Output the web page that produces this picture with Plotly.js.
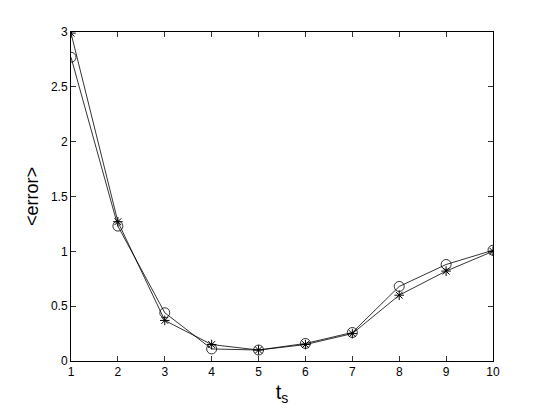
<!DOCTYPE html>
<html>
<head>
<meta charset="utf-8">
<script src="https://cdn.plot.ly/plotly-3.0.1.min.js"></script>
<style>html,body{margin:0;padding:0;background:#fff;}#chart{width:545px;height:410px;}</style>
</head>
<body>
<div id="chart"></div>
<script>
const ts = [1, 2, 3, 4, 5, 6, 7, 8, 9, 10];
const errorCircle = [2.77, 1.23, 0.44, 0.11, 0.10, 0.16, 0.26, 0.68, 0.88, 1.01];
const errorStar = [2.99, 1.27, 0.37, 0.15, 0.10, 0.15, 0.25, 0.60, 0.82, 1.00];
const yTicks = [0, 0.5, 1, 1.5, 2, 2.5, 3];
const yTickLabels = ['0', '0.5', '1', '1.5', '2', '2.5', '3'];

const traces = [
  {x: ts, y: errorCircle, mode: 'lines+markers', type: 'scatter',
   line: {color: '#000', width: 0.8},
   marker: {symbol: 'circle-open', size: 10, color: '#000', line: {width: 0.8, color: '#000'}}},
  {x: ts, y: errorStar, mode: 'lines+markers', type: 'scatter',
   line: {color: '#000', width: 0.8},
   marker: {symbol: 'asterisk-open', size: 8, color: '#000', line: {width: 1, color: '#000'}}}
];

const layout = {
  width: 545, height: 410,
  margin: {l: 71, r: 52, t: 32, b: 49},
  paper_bgcolor: '#fff', plot_bgcolor: '#fff',
  showlegend: false,
  font: {family: 'Liberation Sans, Arial, sans-serif', size: 12, color: '#000'},
  xaxis: {
    range: [1, 10], tickvals: ts, ticktext: ts.map(String),
    ticks: 'inside', ticklen: 5, tickcolor: '#000', tickwidth: 0.8,
    showline: true, linecolor: '#000', linewidth: 1, mirror: 'ticks',
    showgrid: false, zeroline: false,
    tickfont: {size: 12},
    title: {text: 't<sub>s</sub>', font: {size: 20}, standoff: 6}
  },
  yaxis: {
    range: [0, 3], tickvals: yTicks, ticktext: yTickLabels,
    ticks: 'inside', ticklen: 5, tickcolor: '#000', tickwidth: 0.8,
    showline: true, linecolor: '#000', linewidth: 1, mirror: 'ticks',
    showgrid: false, zeroline: false,
    tickfont: {size: 12},
    title: {text: '&lt;error&gt;', font: {size: 18}, standoff: 7}
  }
};

Plotly.newPlot('chart', traces, layout, {displayModeBar: false, staticPlot: true});
</script>
</body>
</html>
